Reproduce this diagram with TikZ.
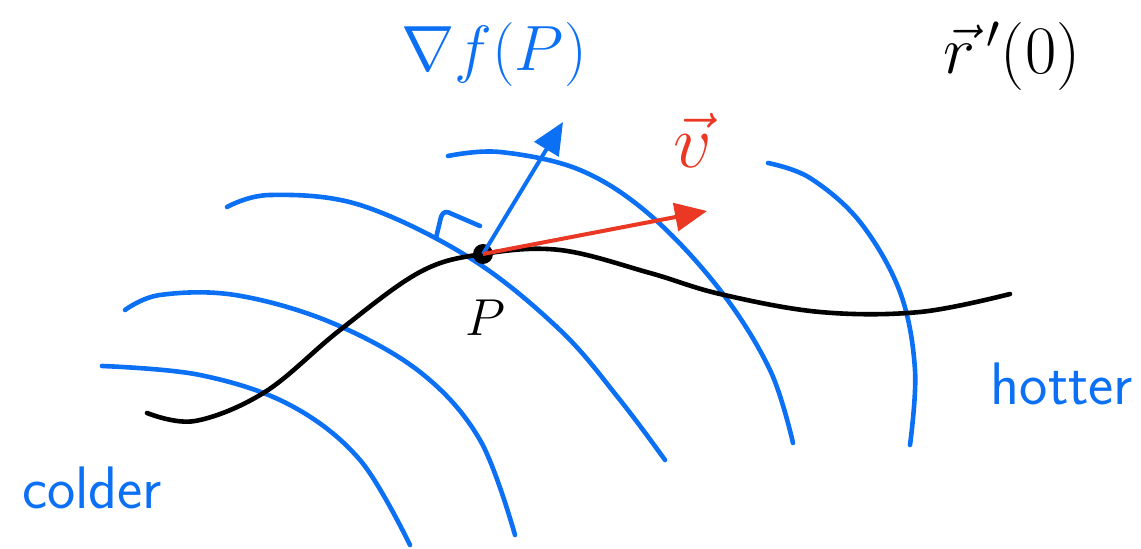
\RequirePackage{fix-cm}
\documentclass[tikz,border=0pt]{standalone}
\usepackage{amsmath}
\usetikzlibrary{arrows.meta}
\definecolor{penblue}{RGB}{12,112,245}
\definecolor{penred}{RGB}{234,56,36}
\begin{document}
\begin{tikzpicture}[x=0.5pt,y=-0.5pt,
  stroke/.style={line width=2.3pt,line cap=round,line join=round},
  level/.style={stroke,penblue},
  lbl/.style={inner sep=0pt,font=\fontsize{26}{28}\selectfont},
  vec/.style={line width=2pt,-{Triangle[length=16pt,width=14pt]}}]
\useasboundingbox (0,0) rectangle (1141,549);
% level curves
\draw[level] plot[smooth,tension=0.6] coordinates {(102,366) (200,375) (290,405) (360,460) (410,545)};
\draw[level] plot[smooth,tension=0.6] coordinates {(125,310) (160,295) (235,295) (330,322) (420,372) (480,440) (515,535)};
\draw[level] plot[smooth,tension=0.6] coordinates {(227,207) (270,195) (360,205) (470,258) (560,330) (620,400) (665,460)};
\draw[level] plot[smooth,tension=0.6] coordinates {(448,156) (500,152) (580,170) (650,215) (720,290) (770,370) (793,443)};
\draw[level] plot[smooth,tension=0.6] coordinates {(768,163) (810,178) (860,222) (900,292) (915,370) (910,445)};
% path
\draw[stroke,black] plot[smooth,tension=0.6] coordinates {(147,413) (195,421) (265,392) (340,330) (420,272) (483,254) (560,250) (650,273) (720,294) (820,312) (920,312) (1010,294)};
% point
\coordinate (P) at (483,254);
\fill[black] (P) circle (10);
\coordinate (G) at (563,122);
\coordinate (V) at (707,211);
\draw[vec,penblue] (P) -- (G);
\draw[vec,penred] (P) -- (V);
% right angle mark
\draw[level] (436,238) -- (441,217) .. controls (443,211) and (447,211) .. (452,214) -- (480,226);
% labels
\node[lbl,penblue,font=\fontsize{32}{34}\selectfont] (grad) at (494,55) {$\nabla f(P)$};
\node[lbl,black,font=\fontsize{34}{36}\selectfont] (rp) at (1012,56) {$\vec{r}\,'(0)$};
\node[lbl,penred,font=\fontsize{38}{40}\selectfont] (v) at (693,140) {$\vec{v}$};
\node[lbl,black] (Plbl) at (485,318) {$P$};
\node[lbl,penblue,font=\fontsize{30}{32}\selectfont\sffamily] (hot) at (1062,384) {hotter};
\node[lbl,penblue,font=\fontsize{30}{32}\selectfont\sffamily] (cold) at (92,488) {colder};
\end{tikzpicture}
\end{document}
